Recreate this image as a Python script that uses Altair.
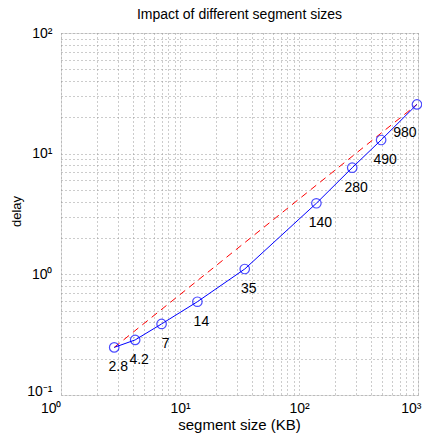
import altair as alt
import pandas as pd

# data
sizes = [2.8, 4.2, 7, 14, 35, 140, 280, 490, 980]
delays = [0.248, 0.286, 0.388, 0.593, 1.107, 3.88, 7.65, 12.98, 25.6]
labels = ["2.8", "4.2", "7", "14", "35", "140", "280", "490", "980"]

ref_sizes = [2.8, 980]
ref_delays = [0.248, 25.6]

x_ticks = [m * 10 ** k for k in range(0, 3) for m in range(1, 10)] + [1000]
y_ticks = [m * 10.0 ** k for k in range(-1, 2) for m in range(1, 10)] + [100]

df = pd.DataFrame({"size": sizes, "delay": delays, "label": labels})
ref = pd.DataFrame({"size": ref_sizes, "delay": ref_delays})

FONT = "Liberation Sans"

lbl_expr = (
    "abs(log(datum.value)/LN10 - round(log(datum.value)/LN10)) < 0.001 ? "
    "'10' + (round(log(datum.value)/LN10) == -1 ? '\u207b\u00b9' : "
    "round(log(datum.value)/LN10) == 0 ? '\u2070' : "
    "round(log(datum.value)/LN10) == 1 ? '\u00b9' : "
    "round(log(datum.value)/LN10) == 2 ? '\u00b2' : '\u00b3') : ''"
)

xscale = alt.Scale(type="log", domain=[1, 1000], nice=False)
yscale = alt.Scale(type="log", domain=[0.1, 100], nice=False)

GRID = "#999999"

xaxis = alt.Axis(
    values=x_ticks, labelExpr=lbl_expr, title="segment size (KB)",
    grid=True, gridDash=[1, 3], gridColor=GRID, gridWidth=1,
    ticks=False, domain=False, labelOverlap=False,
    labelFont=FONT, labelFontSize=14, labelColor="black", labelPadding=6,
    titleFont=FONT, titleFontSize=15, titleFontWeight="normal", titleColor="black",
    titleX=178, titleY=34, titleBaseline="alphabetic", titleAlign="center",
    labelAlign=alt.condition("datum.value == 1 || datum.value == 1000",
                             alt.value("right"), alt.value("center")),
    labelOffset=alt.condition("datum.value == 1000", alt.value(3), alt.value(0)),
)
yaxis = alt.Axis(
    values=y_ticks, labelExpr=lbl_expr, title="delay",
    grid=True, gridDash=[1, 3], gridColor=GRID, gridWidth=1,
    ticks=False, domain=False, labelOverlap=False,
    labelFont=FONT, labelFontSize=14, labelColor="black", labelPadding=9,
    labelBaseline=alt.condition("datum.value < 0.11", alt.value("alphabetic"), alt.value("middle")),
    titleFont=FONT, titleFontSize=13, titleFontWeight="normal", titleColor="black",
    titleX=-45, titleY=178, titleBaseline="middle", titleAlign="center", titleAngle=270,
)

base = alt.Chart(df)

ref_line = alt.Chart(ref).mark_line(color="#ff0000", strokeDash=[7, 5], strokeWidth=1).encode(
    x=alt.X("size:Q", scale=xscale, axis=xaxis),
    y=alt.Y("delay:Q", scale=yscale, axis=yaxis),
)

line = base.mark_line(color="#0000ff", strokeWidth=1).encode(
    x=alt.X("size:Q", scale=xscale),
    y=alt.Y("delay:Q", scale=yscale),
)

pts = base.mark_point(shape="circle", filled=False, color="#0000ff", size=90, strokeWidth=1.2).encode(
    x=alt.X("size:Q", scale=xscale),
    y=alt.Y("delay:Q", scale=yscale),
)

txt = base.transform_filter("datum.size < 900").mark_text(
    font=FONT, fontSize=14, color="black", dx=4, dy=20
).encode(
    x=alt.X("size:Q", scale=xscale),
    y=alt.Y("delay:Q", scale=yscale),
    text="label:N",
)

txt_last = base.transform_filter("datum.size >= 900").mark_text(
    font=FONT, fontSize=14, color="black", dx=-12, dy=29
).encode(
    x=alt.X("size:Q", scale=xscale),
    y=alt.Y("delay:Q", scale=yscale),
    text="label:N",
)

chart = alt.layer(ref_line, line, pts, txt, txt_last).properties(
    width=357,
    height=362,
    title=alt.TitleParams("Impact of different segment sizes", font=FONT, fontSize=14,
                          fontWeight="normal", color="black", offset=4.5),
    autosize=alt.AutoSizeParams(type="none"),
    padding={"left": 53, "top": 25, "right": 4, "bottom": 39},
).configure_view(stroke="black", strokeWidth=1.5).configure(background="white")

chart.save("out.html", embed_options={"renderer": "svg", "actions": False})
